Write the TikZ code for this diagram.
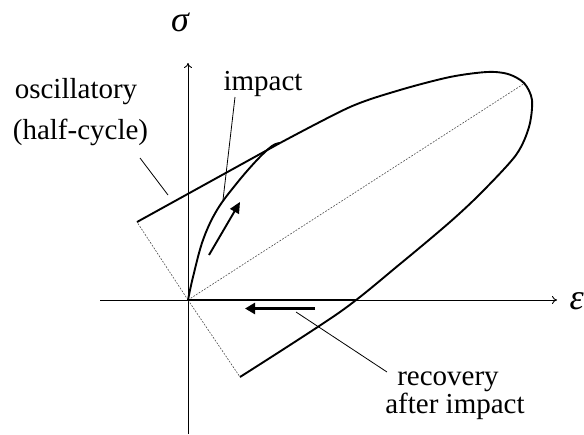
\documentclass[tikz,border=0pt]{standalone}
\usepackage{fontspec}
\setmainfont{Liberation Serif}
\usetikzlibrary{arrows.meta}
\begin{document}
\begin{tikzpicture}[x=1pt,y=-1pt,
  axis/.style={line width=0.9pt,-{To[length=5pt,width=8pt]}},
  curve/.style={line width=1.9pt,line join=round},
  guide/.style={line width=0.6pt,gray!60!black,dash pattern=on 1.8pt off 1.4pt},
  leader/.style={line width=0.8pt},
  lbl/.style={font=\fontsize{29}{34}\selectfont,inner sep=0pt,anchor=base},
  sym/.style={font=\fontsize{36}{40}\selectfont\itshape,inner sep=0pt}]
\useasboundingbox (0,0) rectangle (584,434);
% axes
\coordinate (O) at (188,300);
\coordinate (xs) at (100,300);
\coordinate (xe) at (557,300);
\coordinate (ys) at (188,434);
\coordinate (ye) at (188,63);
\draw[axis] (xs) -- (xe);
\draw[axis] (ys) -- (ye);
\node[sym] (sigma) at (180,22) {σ};
\node[sym,anchor=east] (eps) at (584,301) {ε};
% guide lines
\coordinate (A) at (137,222);
\coordinate (B) at (240,377);
\coordinate (C) at (525,83);
\draw[guide] (O) -- (A);
\draw[guide] (O) -- (B);
\draw[guide] (O) -- (C);
% oscillatory loop
\coordinate (K) at (280,143);
\draw[curve] (A) -- (K);
\draw[curve] plot[smooth,tension=0.5] coordinates {(280,143) (350,107) (400,90) (450,77) (487,72) (508,74) (524,83) (532,100) (529,127) (516,155) (482,192) (450,222) (400,264) (340,312) (240,377)};
% impact curve
\draw[curve] plot[smooth,tension=0.6] coordinates {(188,300) (193,277) (203,240) (217,210) (237,183) (257,160) (272,146) (280,143)};
% recovery
\draw[line width=2.6pt] (O) -- (357,300);
\coordinate (r1) at (315,308.5);
\coordinate (r2) at (245,308.5);
\draw[line width=3.6pt,-{Triangle[length=10pt,width=11pt]}] (r1) -- (r2);
\coordinate (i1) at (209,255);
\coordinate (i2) at (240,202);
\draw[line width=1.9pt,-{Triangle[length=11pt,width=10pt]}] (i1) -- (i2);
% labels
\node[lbl] (osc) at (76,98) {oscillatory};
\node[lbl] (half) at (80.5,139) {(half-cycle)};
\node[lbl] (imp) at (263,90) {impact};
\node[lbl] (rec) at (448,385) {recovery};
\node[lbl] (aft) at (455,413) {after impact};
% leaders
\coordinate (la1) at (140,158);
\coordinate (la2) at (168,195);
\coordinate (lb1) at (235,97);
\coordinate (lb2) at (223,200);
\coordinate (lc1) at (387,372);
\coordinate (lc2) at (296,312);
\draw[leader] (la1) -- (la2);
\draw[leader] (lb1) -- (lb2);
\draw[leader] (lc1) -- (lc2);
\end{tikzpicture}
\end{document}
